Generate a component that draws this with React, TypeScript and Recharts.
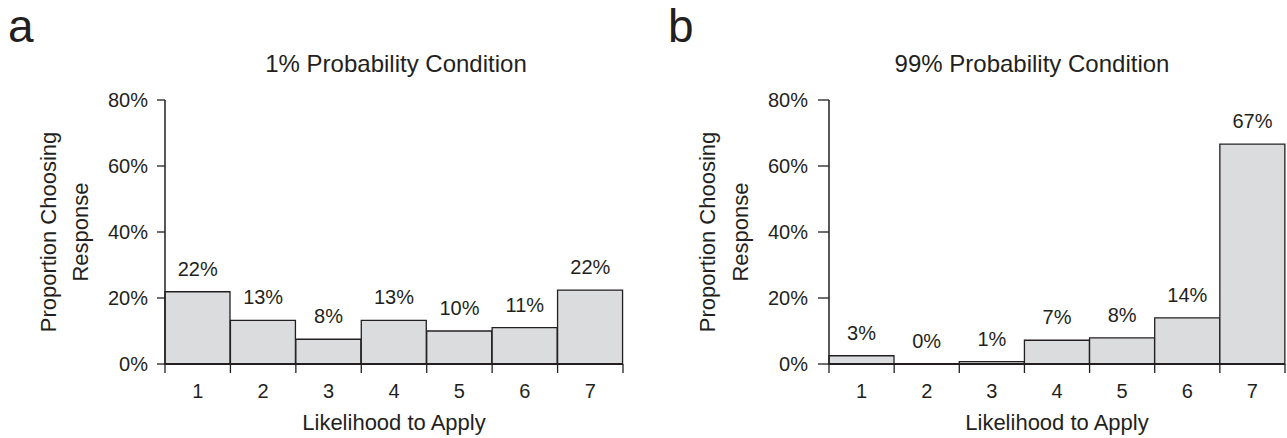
import { ComposedChart, Bar, Line, XAxis, YAxis, LabelList } from "recharts";

const responses = ["1", "2", "3", "4", "5", "6", "7"];
const yTicks = [0, 20, 40, 60, 80];

// 1% probability condition (panel a)
const pctLow = [21.9, 13.2, 7.5, 13.2, 10, 11, 22.4];
const labelsLow = ["22%", "13%", "8%", "13%", "10%", "11%", "22%"];

// 99% probability condition (panel b)
const pctHigh = [2.5, 0, 0.7, 7.2, 7.9, 14, 66.6];
const labelsHigh = ["3%", "0%", "1%", "7%", "8%", "14%", "67%"];

const INK = "#231f20";
const FILL = "#dbdcde";
const FONT = "'Liberation Sans', Arial, sans-serif";
const TICK_LEN = 9;
const TICK_GAP = 11;

function YTitle(props: any) {
  const { viewBox, d1, d2 } = props;
  const axisX = viewBox.x + viewBox.width;
  const cy = viewBox.y + viewBox.height / 2;
  const x1 = axisX - d1;
  const x2 = axisX - d2;
  return (
    <g fill={INK} fontSize={22} fontFamily={FONT}>
      <text x={x1} y={cy} textAnchor="middle" transform={`rotate(-90 ${x1} ${cy})`}>
        Proportion Choosing
      </text>
      <text x={x2} y={cy} textAnchor="middle" transform={`rotate(-90 ${x2} ${cy})`}>
        Response
      </text>
    </g>
  );
}

// category label at the band centre, tick marks at the band edges
function EdgeTick(props: any) {
  const { x, y, payload, index, visibleTicksCount, band } = props;
  const y0 = y - TICK_LEN - TICK_GAP;
  const half = band / 2;
  return (
    <g>
      <line x1={x - half} x2={x - half} y1={y0} y2={y0 + TICK_LEN} stroke={INK} strokeWidth={1.3} />
      {index === visibleTicksCount - 1 && (
        <line x1={x + half} x2={x + half} y1={y0} y2={y0 + TICK_LEN} stroke={INK} strokeWidth={1.3} />
      )}
      <text x={x} y={y} dy="0.71em" textAnchor="middle" fill={INK} fontSize={20} fontFamily={FONT}>
        {payload.value}
      </text>
    </g>
  );
}

interface PanelProps {
  values: number[];
  labels: string[];
  left: number;
  width: number;
  axisWidth: number;
  right: number;
  ySize: number;
  yMargin: number;
  d1: number;
  d2: number;
}

function Panel({ values, labels, left, width, axisWidth, right, ySize, yMargin, d1, d2 }: PanelProps) {
  const data = responses.map((r, i) => ({ r, pct: values[i], label: labels[i] }));
  const band = (width - axisWidth - right) / responses.length;
  return (
    <div style={{ position: "absolute", left, top: 0 }}>
      <ComposedChart
        width={width}
        height={438}
        data={data}
        barCategoryGap={0}
        margin={{ top: 100, right, bottom: 0, left: 0 }}
      >
        <XAxis
          dataKey="r"
          height={74}
          tickLine={false}
          tickSize={TICK_LEN}
          tickMargin={TICK_GAP}
          axisLine={{ stroke: INK, strokeWidth: 2 }}
          tick={<EdgeTick band={band} />}
          label={{
            value: "Likelihood to Apply",
            position: "insideBottom",
            offset: 8,
            fill: INK,
            fontSize: 22,
            fontFamily: FONT,
          }}
        />
        <YAxis
          width={axisWidth}
          domain={[0, 80]}
          ticks={yTicks}
          tickFormatter={(v) => `${v}%`}
          tickSize={ySize}
          tickMargin={yMargin}
          axisLine={{ stroke: INK, strokeWidth: 1.5 }}
          tickLine={{ stroke: INK, strokeWidth: 1.3 }}
          tick={{ fill: INK, fontSize: 20, fontFamily: FONT }}
          label={<YTitle d1={d1} d2={d2} />}
        />
        <Bar dataKey="pct" fill={FILL} stroke={INK} strokeWidth={1.3} isAnimationActive={false} />
        <Line
          dataKey="pct"
          stroke="none"
          dot={false}
          activeDot={false}
          legendType="none"
          isAnimationActive={false}
        >
          <LabelList
            dataKey="label"
            position="top"
            offset={16}
            fill={INK}
            fontSize={20}
            fontFamily={FONT}
          />
        </Line>
      </ComposedChart>
    </div>
  );
}

export default function App() {
  return (
    <div
      style={{
        position: "absolute",
        left: 0,
        top: 0,
        width: 1287,
        height: 438,
        background: "#fff",
        fontFamily: FONT,
      }}
    >
      <Panel
        values={pctLow}
        labels={labelsLow}
        left={0}
        width={640}
        axisWidth={165}
        right={17}
        ySize={8}
        yMargin={9}
        d1={109}
        d2={77}
      />
      <Panel
        values={pctHigh}
        labels={labelsHigh}
        left={640}
        width={647}
        axisWidth={189}
        right={2}
        ySize={11}
        yMargin={10}
        d1={114}
        d2={81}
      />
      <svg
        width={1287}
        height={438}
        style={{ position: "absolute", left: 0, top: 0, pointerEvents: "none" }}
      >
        <g fill={INK}>
          <text x={8} y={42} fontSize={46} fontFamily="'Liberation Sans Narrow', sans-serif">
            a
          </text>
          <text x={668} y={42} fontSize={46} fontFamily="'Liberation Sans Narrow', sans-serif">
            b
          </text>
          <text x={396} y={72} textAnchor="middle" fontSize={24} fontFamily={FONT}>
            1% Probability Condition
          </text>
          <text x={1032} y={72} textAnchor="middle" fontSize={24} fontFamily={FONT}>
            99% Probability Condition
          </text>
        </g>
      </svg>
    </div>
  );
}
